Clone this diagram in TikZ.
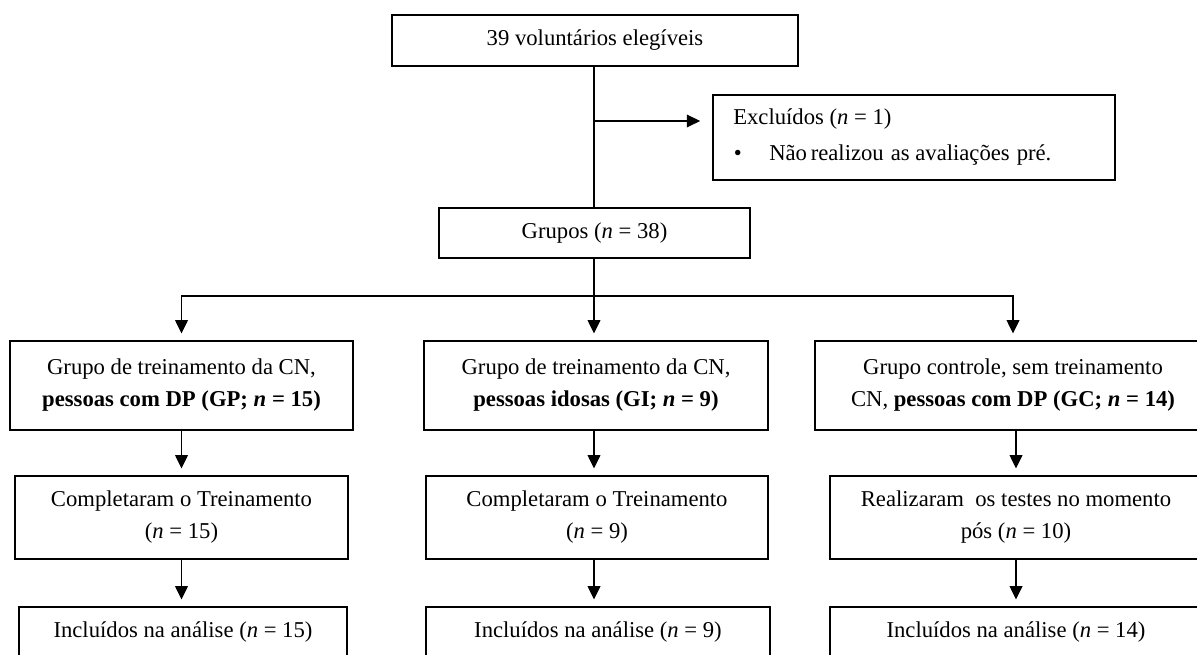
\documentclass[tikz,border=0pt]{standalone}
\usepackage{fontspec}
\setmainfont{Liberation Serif}
\usetikzlibrary{arrows.meta}
\tikzset{
  box/.style={draw=black, line width=1.3pt, fill=white, align=center, inner sep=0pt,
    font=\fontsize{17}{24}\selectfont},
  plain/.style={inner sep=0pt, anchor=west, font=\fontsize{17}{24}\selectfont},
  link/.style={draw=black, line width=1.2pt},
  arrowlink/.style={link, -{Triangle[length=10pt,width=9.5pt]}, shorten >=5pt}
}
\begin{document}
\begin{tikzpicture}[x=0.75pt,y=-0.75pt]
\clip (0,0) rectangle (1197,655);
\fill[white] (0,0) rectangle (1197,655);

% top
\node[box, minimum width=406*0.75pt, minimum height=51*0.75pt] (top) at (595,40.5) {39 voluntários elegíveis};
\node[box, minimum width=402*0.75pt, minimum height=85*0.75pt] (excl) at (914,137.5) {};
\node[plain] (exclA) at (733,119) {Excluídos (\textit{n} = 1)};
\node[plain] (exclB) at (733,155) {\makebox[27pt][l]{\hspace{0.5pt}•}Não\,realizou\ \hspace{1pt}as avaliações\ \hspace{1pt}pré.};
\node[box, minimum width=311*0.75pt, minimum height=50*0.75pt] (grupos) at (594.5,233) {Grupos (\textit{n} = 38)};

% row 1
\node[box, minimum width=343*0.75pt, minimum height=89*0.75pt] (g1) at (181.5,385.5)
  {Grupo de treinamento da CN,\\\textbf{pessoas com DP (GP; \textit{n} = 15)}};
\node[box, minimum width=344*0.75pt, minimum height=89*0.75pt] (g2) at (596,385.5)
  {Grupo de treinamento da CN,\\\textbf{pessoas idosas (GI; \textit{n} = 9)}};
\node[box, minimum width=396*0.75pt, minimum height=89*0.75pt] (g3) at (1013,385.5)
  {Grupo controle, sem treinamento\\CN, \textbf{pessoas com DP (GC; \textit{n} = 14)}};

% row 2
\node[box, minimum width=333*0.75pt, minimum height=83*0.75pt] (c1) at (181.5,517.5)
  {Completaram o Treinamento\\(\textit{n} = 15)};
\node[box, minimum width=342*0.75pt, minimum height=83*0.75pt] (c2) at (597,517.5)
  {Completaram o Treinamento\\(\textit{n} = 9)};
\node[box, minimum width=372*0.75pt, minimum height=83*0.75pt] (c3) at (1016,517.5)
  {Realizaram\ \ os testes no momento\\pós (\textit{n} = 10)};

% row 3
\node[box, minimum width=328*0.75pt, minimum height=50*0.75pt] (i1) at (183,632)
  {Incluídos na análise (\textit{n} = 15)};
\node[box, minimum width=344*0.75pt, minimum height=50*0.75pt] (i2) at (598,632)
  {Incluídos na análise (\textit{n} = 9)};
\node[box, minimum width=372*0.75pt, minimum height=50*0.75pt] (i3) at (1016,632)
  {Incluídos na análise (\textit{n} = 14)};

% connectors
\coordinate (split) at (594,121);
\coordinate (bus) at (594,296);
\draw[link] (top.south -| split) -- (grupos.north -| split);
\draw[link, -{Triangle[length=10pt,width=9.5pt]}, shorten >=9pt] (split) -- (excl.west |- split);
\draw[link] (grupos.south -| bus) -- (bus);
\draw[arrowlink] (bus) -- (g2.north -| bus);
\draw[arrowlink] (bus) -| (g1.north);
\draw[arrowlink] (bus) -| (g3.north);

\draw[arrowlink] (g1.south) -- (c1.north);
\draw[arrowlink] (g2.south -| bus) -- (c2.north -| bus);
\draw[arrowlink] (g3.south -| c3) -- (c3.north);
\draw[arrowlink] (c1.south) -- (i1.north -| c1);
\draw[arrowlink] (c2.south -| bus) -- (i2.north -| bus);
\draw[arrowlink] (c3.south) -- (i3.north);
\end{tikzpicture}
\end{document}
